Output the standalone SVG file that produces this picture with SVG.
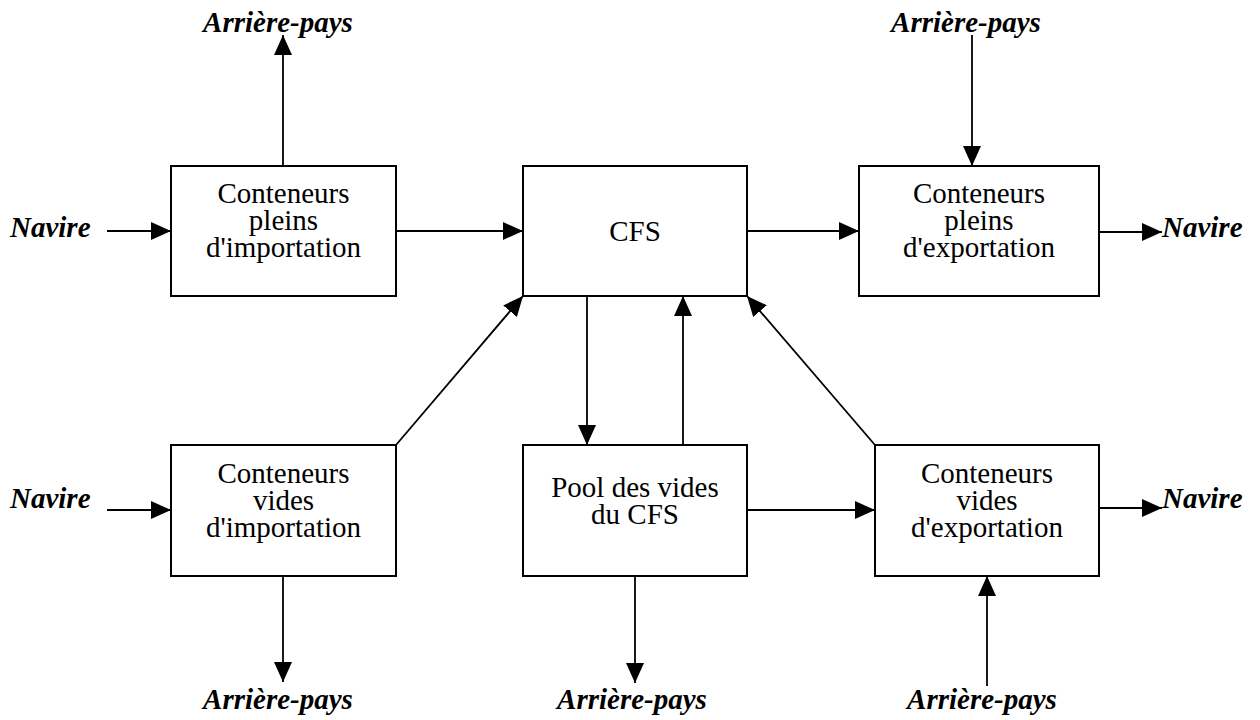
<svg xmlns="http://www.w3.org/2000/svg" width="1260" height="720" viewBox="0 0 1260 720">
<style>
.box{fill:#fff;stroke:#000;stroke-width:2}
.ln{fill:none;stroke:#000;stroke-width:1.8;marker-end:url(#ah)}
.t{font-family:"Liberation Serif","Times New Roman",serif;font-size:29px;fill:#000;text-anchor:middle}
.l{font-family:"Liberation Serif","Times New Roman",serif;font-size:29px;font-weight:bold;font-style:italic;fill:#000}
</style>
<defs>
<marker id="ah" markerUnits="userSpaceOnUse" markerWidth="20" markerHeight="18" refX="20" refY="9" orient="auto">
<path d="M0,0 L20,9 L0,18 Z" fill="#000"/>
</marker>
</defs>
<rect width="1260" height="720" fill="#fff"/>
<g id="connectors">
<line class="ln" x1="107" y1="231" x2="171" y2="231"/>
<line class="ln" x1="283" y1="166" x2="283" y2="35"/>
<line class="ln" x1="396" y1="231" x2="523" y2="231"/>
<line class="ln" x1="747" y1="231" x2="859" y2="231"/>
<line class="ln" x1="972" y1="35" x2="972" y2="166"/>
<line class="ln" x1="1099" y1="232" x2="1162" y2="232"/>
<line class="ln" x1="107" y1="510" x2="171" y2="510"/>
<line class="ln" x1="283" y1="576" x2="283" y2="682"/>
<line class="ln" x1="396" y1="445" x2="523" y2="296"/>
<line class="ln" x1="875" y1="445" x2="747" y2="296"/>
<line class="ln" x1="587" y1="296" x2="587" y2="445"/>
<line class="ln" x1="683" y1="445" x2="683" y2="296"/>
<line class="ln" x1="747" y1="510" x2="875" y2="510"/>
<line class="ln" x1="635" y1="576" x2="635" y2="683"/>
<line class="ln" x1="1099" y1="508" x2="1162" y2="508"/>
<line class="ln" x1="987" y1="686" x2="987" y2="576"/>
</g>
<g id="labels">
<text class="l" x="10" y="237">Navire</text>
<text class="l" x="10" y="508">Navire</text>
<text class="l" x="1162" y="237">Navire</text>
<text class="l" x="1162" y="508">Navire</text>
<text class="l" x="278" y="32" text-anchor="middle">Arrière-pays</text>
<text class="l" x="966" y="32" text-anchor="middle">Arrière-pays</text>
<text class="l" x="278" y="709" text-anchor="middle">Arrière-pays</text>
<text class="l" x="632" y="709" text-anchor="middle">Arrière-pays</text>
<text class="l" x="982" y="709" text-anchor="middle">Arrière-pays</text>
</g>
<g id="n-pleins-import">
<rect class="box" x="171" y="166" width="225" height="130"/>
<text class="t" x="283.5" y="203">Conteneurs</text>
<text class="t" x="283.5" y="230">pleins</text>
<text class="t" x="283.5" y="257">d'importation</text>
</g>
<g id="n-cfs">
<rect class="box" x="523" y="166" width="224" height="130"/>
<text class="t" x="635" y="241">CFS</text>
</g>
<g id="n-pleins-export">
<rect class="box" x="859" y="166" width="240" height="130"/>
<text class="t" x="979" y="203">Conteneurs</text>
<text class="t" x="979" y="230">pleins</text>
<text class="t" x="979" y="257">d'exportation</text>
</g>
<g id="n-vides-import">
<rect class="box" x="171" y="445" width="225" height="131"/>
<text class="t" x="283.5" y="483">Conteneurs</text>
<text class="t" x="283.5" y="510">vides</text>
<text class="t" x="283.5" y="537">d'importation</text>
</g>
<g id="n-pool">
<rect class="box" x="523" y="445" width="224" height="131"/>
<text class="t" x="635" y="497">Pool des vides</text>
<text class="t" x="635" y="524">du CFS</text>
</g>
<g id="n-vides-export">
<rect class="box" x="875" y="445" width="224" height="131"/>
<text class="t" x="987" y="483">Conteneurs</text>
<text class="t" x="987" y="510">vides</text>
<text class="t" x="987" y="537">d'exportation</text>
</g>
</svg>
